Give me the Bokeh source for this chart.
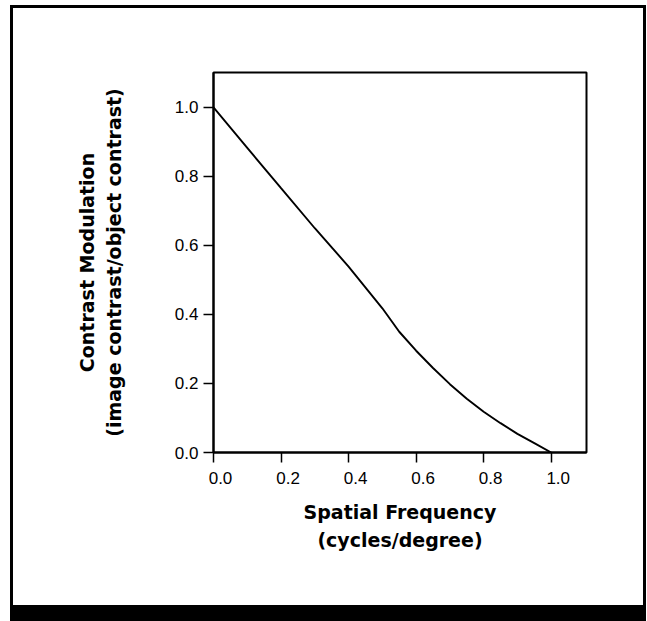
from bokeh.plotting import figure
from bokeh.layouts import column
from bokeh.models import Range1d, FixedTicker, LinearAxis
from bokeh.embed import file_html
from bokeh.resources import INLINE

# data
freq = [0.0, 0.1, 0.2, 0.3, 0.4, 0.5, 0.55, 0.6, 0.65, 0.7, 0.75, 0.8, 0.85, 0.9, 0.95, 1.0]
modulation = [1.0, 0.883, 0.766, 0.650, 0.539, 0.418, 0.350, 0.295, 0.245, 0.198, 0.156, 0.118, 0.085, 0.054, 0.027, 0.0]
x_ticks = [0.0, 0.2, 0.4, 0.6, 0.8, 1.0]
y_ticks = [0.0, 0.2, 0.4, 0.6, 0.8, 1.0]
x_tick_labels = ["0.0", "0.2", "0.4", "0.6", "0.8", "1.0"]
y_tick_labels = ["0.0", "0.2", "0.4", "0.6", "0.8", "1.0"]

X_END = 1.1045
LABEL_SHIFT = 7 / 337.7  # tick labels printed slightly right of their ticks

p = figure(width=630, height=597, output_backend="svg", toolbar_location=None,
           x_range=Range1d(0, X_END), y_range=Range1d(0, 1.1014),
           min_border_left=200, min_border_right=57, min_border_top=64, min_border_bottom=153)
p.extra_x_ranges = {"lbl": Range1d(-LABEL_SHIFT, X_END - LABEL_SHIFT)}

p.line(freq, modulation, line_color="black", line_width=1.9)

p.grid.visible = False
p.outline_line_color = "black"
p.outline_line_width = 2
p.background_fill_color = "white"
p.border_fill_color = "white"

xlab = LinearAxis(x_range_name="lbl")
p.add_layout(xlab, "below")

for ax, ticks in ((p.xaxis[0], x_ticks), (p.yaxis[0], y_ticks), (xlab, x_ticks)):
    ax.ticker = FixedTicker(ticks=ticks)
    ax.minor_tick_line_color = None
    ax.major_tick_in = 0
    ax.major_tick_out = 10
    ax.major_tick_line_color = "black"
    ax.major_tick_line_width = 1.5
    ax.axis_line_color = "black"
    ax.axis_line_width = 2
    ax.major_label_text_font = "Liberation Sans"
    ax.major_label_text_font_size = "17px"
    ax.major_label_text_color = "black"
    ax.axis_label_text_font = "DejaVu Sans"
    ax.axis_label_text_font_style = "bold"
    ax.axis_label_text_font_size = "19px"
    ax.axis_label_text_color = "black"
    ax.axis_label_text_line_height = 1.2

# primary x axis: line and ticks only
p.xaxis[0].major_label_overrides = {t: "" for t in x_ticks}
p.xaxis[0].major_label_standoff = 0
# label axis: tick labels and title, no line/ticks
xlab.major_label_overrides = {t: s for t, s in zip(x_ticks, x_tick_labels)}
xlab.axis_line_color = None
xlab.major_tick_line_color = None
xlab.major_tick_out = 0
xlab.major_label_standoff = 9
xlab.axis_label = "Spatial Frequency\n(cycles/degree)"
xlab.axis_label_standoff = 14
xlab.axis_label_text_line_height = 1.3

p.yaxis[0].major_label_overrides = {t: s for t, s in zip(y_ticks, y_tick_labels)}
p.yaxis[0].axis_label = "Contrast Modulation\n(image contrast/object contrast)"
p.yaxis[0].major_label_standoff = 5
p.yaxis[0].axis_label_standoff = 47

layout = column(p, styles={"margin-left": "10px", "margin-top": "5px",
                           "border-left": "3px solid black", "border-top": "3px solid black",
                           "border-right": "3px solid black", "border-bottom": "16px solid black",
                           "background": "white"})

open("out.html", "w").write(file_html(layout, INLINE))
